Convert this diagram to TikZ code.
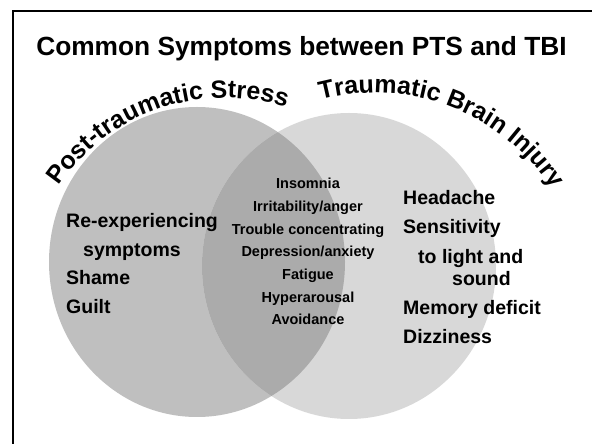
\documentclass[tikz,border=0pt]{standalone}
\usepackage{fontspec}
\setmainfont{Liberation Sans}
\usetikzlibrary{decorations.text}
\definecolor{ptsgray}{HTML}{BFBFBF}
\definecolor{tbigray}{HTML}{D8D8D8}
\definecolor{bothgray}{HTML}{ABABAB}
\newcommand\arcfont{\fontsize{25}{25}\selectfont\bfseries}

\begin{document}
\begin{tikzpicture}[x=1pt,y=1pt,
	side/.style={anchor=base west,inner sep=0pt,font=\fontsize{19.5}{20}\selectfont\bfseries},
	mid/.style={anchor=base,inner sep=0pt,font=\fontsize{14.5}{15}\selectfont\bfseries}]
	\useasboundingbox (0,0) rectangle (592,444);
	\draw[line width=2pt] (592,433) -- (13,433) -- (13,0);

	% the two sets
	\fill[ptsgray] (197,182) ellipse [x radius=148, y radius=155];
	\fill[tbigray] (349,178) ellipse [x radius=147, y radius=153];
	\begin{scope}
		\clip (197,182) ellipse [x radius=148, y radius=155];
		\fill[bothgray] (349,178) ellipse [x radius=147, y radius=153];
	\end{scope}

	\node[anchor=base,inner sep=0pt,font=\fontsize{26.3}{27}\selectfont\bfseries] (T) at (301.5,388) {Common Symptoms between PTS and TBI};

	\path[decorate,decoration={text along path,text align=center,text={|\arcfont|Post-traumatic Stress}}]
		(225,144) ++(150:202pt) arc [start angle=150,end angle=68,radius=202pt];
	\path[decorate,decoration={text along path,text align=center,text={|\arcfont|Traumatic Brain Injury}}]
		(375,139) ++(104:212pt) arc [start angle=104,end angle=34,radius=212pt];

	\node[side] (RE) at (66,216) {Re-experiencing};
	\node[side] (SY) at (83,187) {symptoms};
	\node[side] (SH) at (66,159) {Shame};
	\node[side] (GU) at (66,130) {Guilt};

	\node[mid] (IN) at (308,255) {Insomnia};
	\node[mid] (IR) at (308,232.3) {Irritability/anger};
	\node[mid] (TC) at (308,209.7) {Trouble concentrating};
	\node[mid] (DE) at (308,187) {Depression/anxiety};
	\node[mid] (FA) at (308,164.3) {Fatigue};
	\node[mid] (HY) at (308,141.7) {Hyperarousal};
	\node[mid] (AV) at (308,119) {Avoidance};

	\node[side] (HE) at (403,239) {Headache};
	\node[side] (SE) at (403,210) {Sensitivity};
	\node[side] (LI) at (418,180) {to light and};
	\node[side] (SO) at (452,158) {sound};
	\node[side] (ME) at (403,129) {Memory deficit};
	\node[side] (DI) at (403,100) {Dizziness};
\end{tikzpicture}
\end{document}
